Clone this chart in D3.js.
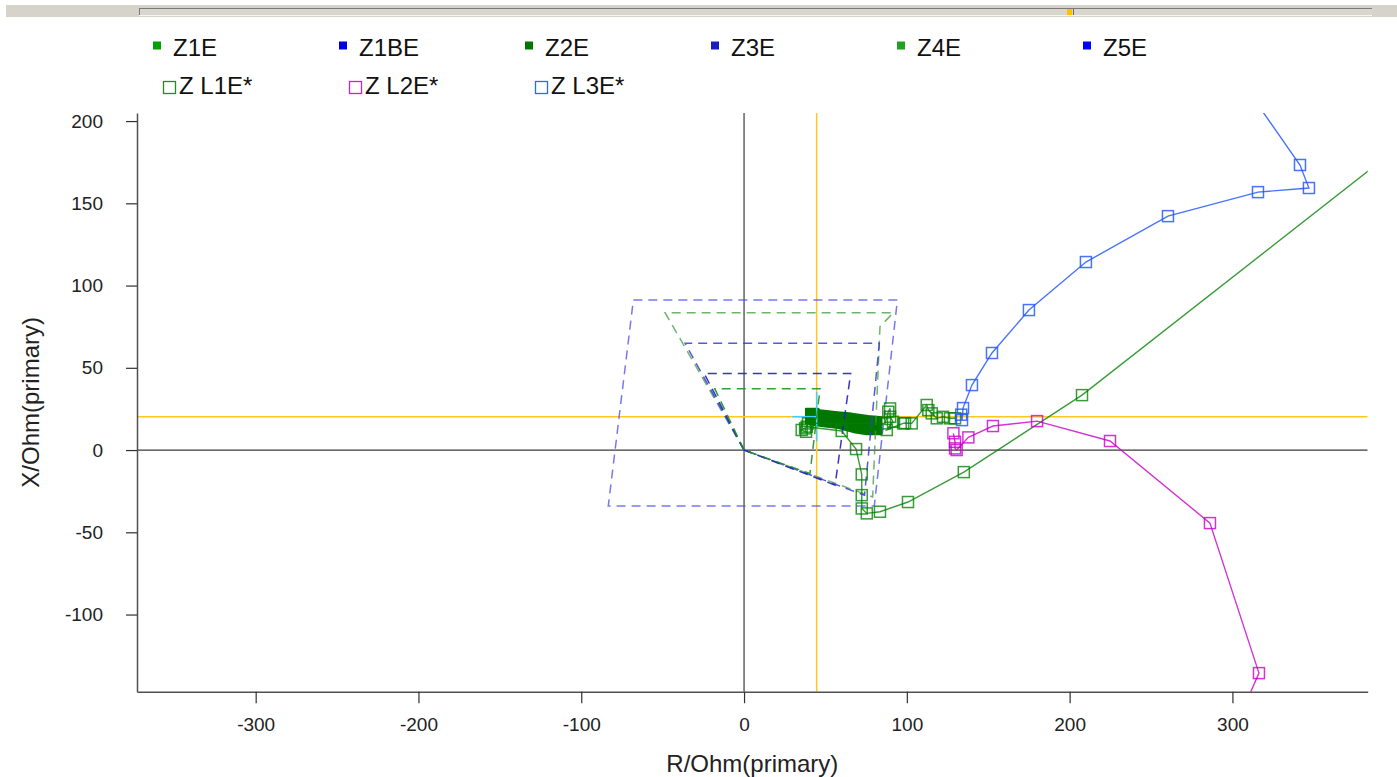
<!DOCTYPE html>
<html>
<head>
<meta charset="utf-8">
<script src="https://cdn.jsdelivr.net/npm/d3@7"></script>
<style>
  body { margin: 0; background: #ffffff; }
  svg { display: block; font-family: "Liberation Sans", Arial, sans-serif; }
</style>
</head>
<body>
<svg id="chart" width="1397" height="777"></svg>
<script>
// ---- axis ticks ----
const xTicks = [-300, -200, -100, 0, 100, 200, 300];
const yTicks = [-100, -50, 0, 50, 100, 150, 200];

// ---- legend ----
const zoneNames = ["Z1E", "Z1BE", "Z2E", "Z3E", "Z4E", "Z5E"];
const zoneColors = ["#00a000", "#0000e0", "#007800", "#1c1cc0", "#22a022", "#0000ff"];
const loopNames = ["Z L1E*", "Z L2E*", "Z L3E*"];
const loopColors = ["#1f8f1f", "#cc22cc", "#3366ff"];

// ---- zone characteristics, [R, X] in Ohm primary ----
const zoneZ1E  = [[0, 0], [-18, 37.3], [46.7, 37.3], [40.5, -14.2], [0, 0]];
const zoneZ1BE = [[0, 0], [-24.5, 46.6], [65.5, 46.6], [55.9, -21.3], [0, 0]];
const zoneZ3E  = [[0, 0], [-36.2, 64.9], [83.1, 64.9], [74, -27.5], [0, 0]];
const zoneZ4E  = [[0, 0], [-48.5, 83.5], [91.7, 83.5], [83.5, 75], [79, -28.5], [0, 0]];
const zoneZ5E  = [[-68, 91.2], [94.2, 91.2], [80, -34], [-83.4, -34], [-68, 91.2]];

// ---- measured loop impedances, [R, X] ----
const loopL1E = [
  [420, 198], [207.6, 33.4], [135, -13.4], [100.7, -31.6], [83.5, -37.5], [75.4, -38.5],
  [72.3, -35.5], [72.3, -27.4], [72.3, -14.8], [68.8, 0.6], [60, 11.6],
  [38.5, 14.2], [35.4, 12.2], [38.1, 11.1], [37.5, 13.2], [39.3, 16.2],
  [86.6, 16.2], [88.6, 23.3], [89.7, 25.3], [89.7, 20.2], [91.5, 17.2], [87.7, 12.2],
  [97.7, 16.2], [98.9, 16.4], [103, 16.2], [112.2, 27.4], [113.2, 24.3], [115.3, 22.3],
  [118.4, 19.3], [122.2, 20.2], [126.5, 19.3], [129.6, 19.3]
];
// envelope of the densely packed L1E samples during the fault
const loopL1EDense = [
  [37.9, 25.3], [45.6, 25.3], [46.7, 24.3], [55.9, 23.3], [66.2, 22.3], [76.4, 20.8], [84.6, 20.1],
  [84.6, 9.5], [75.4, 9.5], [68.2, 10.5], [57.9, 13.2], [49.8, 14.2], [41.6, 15.2], [37.9, 16.2]
];
const loopL2E = [
  [301, -170], [316.3, -135.6], [286.2, -44.4], [224.8, 5.5], [180, 17.6], [152.9, 14.6],
  [137.8, 7.7], [130.6, 0], [129.6, 1], [129.6, 5], [128.6, 10.2]
];
const loopL3E = [
  [305, 225], [341.5, 173.3], [347, 159.3], [315.7, 156.8], [260.4, 142.2], [210, 114.3],
  [175, 85.1], [152.3, 59], [140, 39.5], [134.5, 25.5], [133.9, 18.2], [133.4, 21.5]
];

// cursor position
const cursorR = 44.6;
const cursorX = 20.3;
const cursorHalf = 15;

// ---- layout ----
const svg = d3.select("#chart");
const plot = { left: 137, right: 1367.7, top: 113, bottom: 691.7 };

const x = d3.scaleLinear().domain([-372.9, 383.1]).range([plot.left, plot.right]);
const y = d3.scaleLinear().domain([-146.9, 204.9]).range([plot.bottom, plot.top]);

// ---- status strip along the top ----
const strip = svg.append("g");
strip.append("rect").attr("x", 6).attr("y", 5).attr("width", 1391).attr("height", 12).attr("fill", "#d6d3cb");
strip.append("rect").attr("x", 139).attr("y", 8).attr("width", 1233).attr("height", 7).attr("fill", "#d9d6ce");
strip.append("line").attr("x1", 139).attr("x2", 1372).attr("y1", 8.5).attr("y2", 8.5).attr("stroke", "#7a7a7a");
strip.append("line").attr("x1", 139.5).attr("x2", 139.5).attr("y1", 8).attr("y2", 15).attr("stroke", "#7a7a7a");
strip.append("line").attr("x1", 139).attr("x2", 1372).attr("y1", 15.5).attr("y2", 15.5).attr("stroke", "#f4f4f0");
strip.append("rect").attr("x", 1067).attr("y", 9).attr("width", 5).attr("height", 6).attr("fill", "#ffc000");
strip.append("line").attr("x1", 1073.5).attr("x2", 1073.5).attr("y1", 9).attr("y2", 15).attr("stroke", "#6a6a6a");

// ---- legend ----
const legend = svg.append("g").style("font-size", "24px").attr("fill", "#111");
zoneNames.forEach((name, i) => {
  const gx = 153 + i * 186;
  legend.append("rect").attr("x", gx).attr("y", 41.5).attr("width", 8).attr("height", 8).attr("fill", zoneColors[i]);
  legend.append("text").attr("x", gx + 20).attr("y", 55.5).text(name);
});
loopNames.forEach((name, i) => {
  const gx = 163 + i * 186;
  legend.append("rect").attr("x", gx + 0.5).attr("y", 81.5).attr("width", 12).attr("height", 12)
    .attr("fill", "none").attr("stroke", loopColors[i]).attr("stroke-width", 1.3);
  legend.append("text").attr("x", gx + 16).attr("y", 94).text(name);
});

// ---- clip ----
svg.append("defs").append("clipPath").attr("id", "plotClip")
  .append("rect").attr("x", plot.left).attr("y", plot.top)
  .attr("width", plot.right - plot.left).attr("height", plot.bottom - plot.top);

const g = svg.append("g").attr("clip-path", "url(#plotClip)");

// zero axes
g.append("line").attr("x1", x(0)).attr("x2", x(0)).attr("y1", plot.top).attr("y2", plot.bottom)
  .attr("stroke", "#3a3a3a").attr("stroke-width", 1.2);
g.append("line").attr("x1", plot.left).attr("x2", plot.right).attr("y1", y(0)).attr("y2", y(0))
  .attr("stroke", "#3a3a3a").attr("stroke-width", 1.2);

// cursor crosshair lines
g.append("line").attr("x1", x(cursorR)).attr("x2", x(cursorR)).attr("y1", plot.top).attr("y2", plot.bottom)
  .attr("stroke", "#ffc820").attr("stroke-width", 1.5);
g.append("line").attr("x1", plot.left).attr("x2", plot.right).attr("y1", y(cursorX)).attr("y2", y(cursorX))
  .attr("stroke", "#ffc820").attr("stroke-width", 1.5);

const line = d3.line().x(d => x(d[0])).y(d => y(d[1]));

// dense L1E band
g.append("path").attr("d", line(loopL1EDense) + "Z")
  .attr("fill", "#007800").attr("stroke", "#007800").attr("stroke-width", 1.5).attr("stroke-linejoin", "round");

// cursor marker
g.append("line").attr("x1", x(cursorR - cursorHalf)).attr("x2", x(cursorR)).attr("y1", y(cursorX)).attr("y2", y(cursorX))
  .attr("stroke", "#40d0ff").attr("stroke-width", 1.5);
g.append("line").attr("x1", x(cursorR)).attr("x2", x(cursorR)).attr("y1", y(cursorX + cursorHalf)).attr("y2", y(cursorX - cursorHalf))
  .attr("stroke", "#40d0ff").attr("stroke-width", 1.5);

// zone characteristics
const zones = [
  { pts: zoneZ5E,  color: "#4a4af0", op: 0.75 },
  { pts: zoneZ4E,  color: "#3c9c3c", op: 0.75 },
  { pts: zoneZ3E,  color: "#3a3ad8", op: 0.85 },
  { pts: zoneZ1BE, color: "#2020c0", op: 0.9 },
  { pts: zoneZ1E,  color: "#1e961e", op: 0.9 }
];
zones.forEach(z => {
  g.append("path").attr("d", line(z.pts)).attr("fill", "none")
    .attr("stroke", z.color).attr("stroke-opacity", z.op).attr("stroke-width", 1.5)
    .attr("stroke-dasharray", "9,6");
});

// loop trajectories
const loops = [
  { pts: loopL1E, color: "#008000", op: 0.78 },
  { pts: loopL2E, color: "#c800c8", op: 0.8 },
  { pts: loopL3E, color: "#1f55ff", op: 0.82 }
];
loops.forEach(l => {
  g.append("path").attr("d", line(l.pts)).attr("fill", "none")
    .attr("stroke", l.color).attr("stroke-opacity", l.op).attr("stroke-width", 1.4);
  g.selectAll(null).data(l.pts).enter().append("rect")
    .attr("x", d => x(d[0]) - 5.5).attr("y", d => y(d[1]) - 5.5)
    .attr("width", 11).attr("height", 11)
    .attr("fill", "none").attr("stroke", l.color).attr("stroke-opacity", l.op).attr("stroke-width", 1.5);
});

// ---- axes ----
const fmt = d => String(d);
const xAxis = d3.axisBottom(x).tickValues(xTicks).tickFormat(fmt).tickSize(11.5).tickPadding(14).tickSizeOuter(0);
const yAxis = d3.axisLeft(y).tickValues(yTicks).tickFormat(fmt).tickSize(11).tickPadding(23).tickSizeOuter(0);

const gx = svg.append("g").attr("transform", `translate(0,${plot.bottom})`).call(xAxis);
const gy = svg.append("g").attr("transform", `translate(${plot.left},0)`).call(yAxis);
[gx, gy].forEach(a => {
  a.select(".domain").attr("stroke", "#505050").attr("stroke-width", 1.5);
  a.selectAll(".tick line").attr("stroke", "#303030").attr("stroke-width", 1.2);
  a.selectAll(".tick text").attr("fill", "#222").style("font-size", "19px").style("font-family", "Liberation Sans, Arial, sans-serif");
});

svg.append("text").attr("x", (plot.left + plot.right) / 2).attr("y", 764).attr("dy", "0.35em")
  .attr("text-anchor", "middle").style("font-size", "24px").attr("fill", "#222").text("R/Ohm(primary)");
svg.append("text").attr("transform", `translate(31,${(plot.top + plot.bottom) / 2}) rotate(-90)`)
  .attr("dy", "0.35em").attr("text-anchor", "middle").style("font-size", "24px").attr("fill", "#222")
  .text("X/Ohm(primary)");
</script>
</body>
</html>
